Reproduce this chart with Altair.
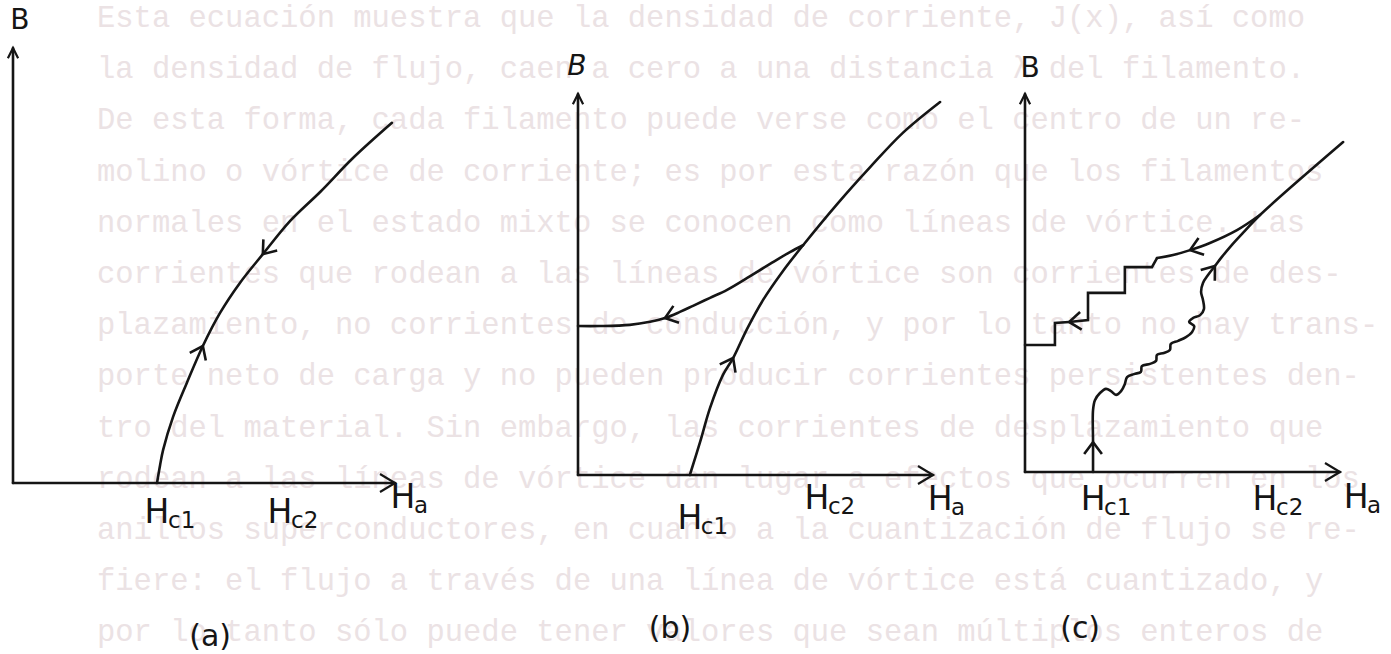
import math
import altair as alt
import pandas as pd

# Magnetization curves B(Ha) of a type-II superconductor.
# All values in arbitrary units; each axis runs from 0 to 10 (arrow tip).
AXIS_MAX = 10.0

# (a) reversible curve
A_H = [3.77, 3.85, 3.93, 4.19, 4.55, 4.97, 5.42, 5.94, 6.54, 7.25, 8.04, 8.90, 9.92]
A_B = [0.00, 0.41, 0.76, 1.52, 2.30, 3.15, 3.91, 4.60, 5.26, 6.02, 6.69, 7.47, 8.28]
A_HC = [3.77, 6.99]

# (b) irreversible curve with trapped flux
B_UP_H = [3.15, 3.44, 3.72, 4.08, 4.37, 4.76, 5.21, 5.77, 6.34, 7.30, 8.23, 9.15, 10.20]
B_UP_B = [0.00, 0.87, 1.76, 2.62, 3.07, 3.83, 4.59, 5.35, 6.03, 7.11, 8.08, 8.98, 9.79]
B_DN_H = [6.34, 5.97, 5.41, 4.85, 4.20, 3.72, 3.24, 2.87, 2.45, 2.03, 1.46, 0.62, 0.00]
B_DN_B = [6.03, 5.85, 5.54, 5.22, 4.86, 4.65, 4.44, 4.28, 4.12, 4.02, 3.94, 3.91, 3.91]
B_HC = [3.15, 6.73]

# (c) flux jumps
C_UP_H = [2.16, 2.16, 2.16, 2.22, 2.38, 2.57, 2.73, 2.89, 3.05, 3.17,
          3.24, 3.46, 3.68, 3.71, 3.97, 4.16, 4.19, 4.41, 4.60, 4.63,
          4.86, 5.11, 5.30, 5.37, 5.21, 5.33, 5.56, 5.68, 5.65, 5.59,
          5.65, 5.81, 6.03, 6.25, 6.57, 6.98, 7.46, 10.10]
C_UP_B = [0.00, 0.79, 1.64, 1.90, 2.09, 2.20, 2.14, 2.04, 2.14, 2.33,
          2.51, 2.59, 2.65, 2.80, 2.86, 2.94, 3.10, 3.15, 3.23, 3.39,
          3.47, 3.57, 3.70, 3.86, 3.97, 4.07, 4.15, 4.31, 4.55, 4.76,
          5.00, 5.21, 5.45, 5.69, 6.01, 6.38, 6.80, 8.73]
C_RET_H = [7.46, 6.73, 5.87, 5.24, 4.70, 4.19]
C_RET_B = [6.80, 6.40, 6.06, 5.87, 5.74, 5.66]
C_STEP_H = [4.19, 4.03, 3.17, 3.17, 2.00, 2.00, 1.40, 0.95, 0.95, 0.00]
C_STEP_B = [5.66, 5.42, 5.42, 4.74, 4.74, 4.02, 3.97, 3.94, 3.36, 3.36]
C_HC = [2.16, 7.62]

PAGE_TEXT = [
    "Esta ecuación muestra que la densidad de corriente, J(x), así como",
    "la densidad de flujo, caen a cero a una distancia λ del filamento.",
    "De esta forma, cada filamento puede verse como el centro de un re-",
    "molino o vórtice de corriente; es por esta razón que los filamentos",
    "normales en el estado mixto se conocen como líneas de vórtice. Las",
    "corrientes que rodean a las líneas de vórtice son corrientes de des-",
    "plazamiento, no corrientes de conducción, y por lo tanto no hay trans-",
    "porte neto de carga y no pueden producir corrientes persistentes den-",
    "tro del material.  Sin embargo, las corrientes de desplazamiento que",
    "rodean a las líneas de vórtice dan lugar a efectos que ocurren en los",
    "anillos superconductores, en cuanto a la cuantización de flujo se re-",
    "fiere: el flujo a través de una línea de vórtice está cuantizado, y",
    "por lo tanto sólo puede tener valores que sean múltiplos enteros de",
]

# ---------------- layout & style ----------------
CANVAS_W, CANVAS_H = 1391, 654
INK = "#151515"
LINE_W = 2.6
LABEL_FONT = "DejaVu Sans"
PAGE_FONT = "Liberation Mono"
PAGE_COLOR = "#ebe2e4"
PAGE_LEFT, PAGE_FIRST, PAGE_GAP = 97, 18, 51.2

CHEVRON = "M -1 -0.75 L 0 0 L -1 0.75"
X_HEAD = "M -1 -0.6 L 0 0 L -1 0.6"
Y_HEAD = "M -1 -0.5 L 0 0 L -1 0.5"

# origin (px) and px per unit of every panel
FRAMES = {
    "a": dict(ox=13, oy=483, sx=38.2, sy=43.5),
    "b": dict(ox=578, oy=475, sx=35.5, sy=38.1),
    "c": dict(ox=1025, oy=472, sx=31.5, sy=37.8),
}
LABELS = {
    "a": dict(b=(0.18, 10.62), ha=(10.21, -0.34), hc_row=[-0.69, -0.69], tag=(5.16, -3.54), italic=False),
    "b": dict(b=(-0.03, 10.71), ha=(10.2, -0.66), hc_row=[-1.15, -0.63], tag=(2.59, -4.04), italic=True),
    "c": dict(b=(0.16, 10.66), ha=(10.51, -0.69), hc_row=[-0.74, -0.74], tag=(1.75, -4.15), italic=False),
}


def path_rows(paths):
    rows = []
    for name, (hs, bs) in paths.items():
        for k, (h, b) in enumerate(zip(hs, bs)):
            rows.append({"path": name, "k": k, "H": h, "B": b})
    return pd.DataFrame(rows)


def heading(fr, hs, bs, i, sense):
    j0, j1 = max(i - 1, 0), min(i + 1, len(hs) - 1)
    dx = (hs[j1] - hs[j0]) * fr["sx"]
    dy = -(bs[j1] - bs[j0]) * fr["sy"]
    ang = math.degrees(math.atan2(dy, dx))
    if sense < 0:
        ang += 180
    return ang % 360


def panel(key, smooth, straight, arrows, hc, tag):
    fr = FRAMES[key]
    lab = LABELS[key]
    xs = alt.Scale(domain=[-fr["ox"] / fr["sx"], (CANVAS_W - fr["ox"]) / fr["sx"]], nice=False, zero=False)
    ys = alt.Scale(domain=[(fr["oy"] - CANVAS_H) / fr["sy"], fr["oy"] / fr["sy"]], nice=False, zero=False)
    X = alt.X("H:Q", scale=xs, axis=None)
    Y = alt.Y("B:Q", scale=ys, axis=None)

    layers = []
    axes = {"xaxis": ([0, AXIS_MAX], [0, 0]), "yaxis": ([0, 0], [0, AXIS_MAX])}
    lines = dict(axes)
    lines.update(straight)
    layers.append(
        alt.Chart(path_rows(lines)).mark_line(
            color=INK, strokeWidth=LINE_W, strokeCap="round", strokeJoin="miter"
        ).encode(x=X, y=Y, detail="path:N", order="k:Q")
    )
    layers.append(
        alt.Chart(path_rows(smooth)).mark_line(
            color=INK, strokeWidth=LINE_W, strokeCap="round", strokeJoin="round",
            interpolate="catmull-rom",
        ).encode(x=X, y=Y, detail="path:N", order="k:Q")
    )

    heads = pd.DataFrame([
        {"H": hs[i], "B": bs[i], "angle": heading(fr, hs, bs, i, s)} for hs, bs, i, s in arrows
    ])
    layers.append(
        alt.Chart(heads).mark_point(
            shape=CHEVRON, filled=False, size=560, color=INK, strokeWidth=LINE_W, opacity=1
        ).encode(x=X, y=Y, angle=alt.Angle("angle:Q", scale=None))
    )
    layers.append(
        alt.Chart(pd.DataFrame({"H": [AXIS_MAX], "B": [0.0], "angle": [0.0]})).mark_point(
            shape=X_HEAD, filled=False, size=900, color=INK, strokeWidth=2.2, opacity=1
        ).encode(x=X, y=Y, angle=alt.Angle("angle:Q", scale=None))
    )
    layers.append(
        alt.Chart(pd.DataFrame({"H": [0.0], "B": [AXIS_MAX], "angle": [270.0]})).mark_point(
            shape=Y_HEAD, filled=False, size=420, color=INK, strokeWidth=2.2, opacity=1
        ).encode(x=X, y=Y, angle=alt.Angle("angle:Q", scale=None))
    )

    # axis letters
    layers.append(
        alt.Chart(pd.DataFrame({"H": [lab["b"][0]], "B": [lab["b"][1]], "t": ["B"]})).mark_text(
            font=LABEL_FONT, fontSize=28, color=INK,
            fontStyle="italic" if lab["italic"] else "normal",
            align="center", baseline="middle",
        ).encode(x=X, y=Y, text="t:N")
    )
    hl = pd.DataFrame({
        "H": [hc[0], hc[1], lab["ha"][0]],
        "B": [lab["hc_row"][0], lab["hc_row"][1], lab["ha"][1]],
        "main": ["H", "H", "H"],
        "sub": ["c1", "c2", "a"],
    })
    layers.append(
        alt.Chart(hl).mark_text(
            font=LABEL_FONT, fontSize=33, color=INK, align="center", baseline="middle"
        ).encode(x=X, y=Y, text="main:N")
    )
    layers.append(
        alt.Chart(hl).mark_text(
            font=LABEL_FONT, fontSize=23, color=INK, align="left", baseline="middle", dx=11, dy=8
        ).encode(x=X, y=Y, text="sub:N")
    )
    layers.append(
        alt.Chart(pd.DataFrame({"H": [lab["tag"][0]], "B": [lab["tag"][1]], "t": [tag]})).mark_text(
            font=LABEL_FONT, fontSize=30, color=INK, align="center", baseline="middle"
        ).encode(x=X, y=Y, text="t:N")
    )
    return alt.layer(*layers)


panel_a = panel(
    "a",
    smooth={"curve": (A_H, A_B)},
    straight={},
    arrows=[(A_H, A_B, 5, 1), (A_H, A_B, 8, -1)],
    hc=A_HC, tag="(a)",
)
panel_b = panel(
    "b",
    smooth={"up": (B_UP_H, B_UP_B), "down": (B_DN_H, B_DN_B)},
    straight={},
    arrows=[(B_UP_H, B_UP_B, 4, 1), (B_DN_H, B_DN_B, 8, 1)],
    hc=B_HC, tag="(b)",
)
panel_c = panel(
    "c",
    smooth={"up": (C_UP_H, C_UP_B), "ret": (C_RET_H, C_RET_B)},
    straight={"steps": (C_STEP_H, C_STEP_B)},
    arrows=[(C_UP_H, C_UP_B, 1, 1), (C_UP_H, C_UP_B, 32, 1),
            (C_RET_H, C_RET_B, 3, 1), (C_STEP_H, C_STEP_B, 6, 1)],
    hc=C_HC, tag="(c)",
)

# faint typed paragraph behind the figures
page = pd.DataFrame({"line": list(range(len(PAGE_TEXT))), "t": PAGE_TEXT})
d0 = -PAGE_FIRST / PAGE_GAP
page_layer = alt.Chart(page).mark_text(
    font=PAGE_FONT, fontSize=30.5, color=PAGE_COLOR, align="left", baseline="middle"
).encode(
    x=alt.value(PAGE_LEFT),
    y=alt.Y("line:Q", axis=None,
            scale=alt.Scale(domain=[d0, d0 + CANVAS_H / PAGE_GAP], reverse=True, nice=False, zero=False)),
    text="t:N",
)

chart = alt.layer(page_layer, panel_a, panel_b, panel_c).resolve_scale(
    x="independent", y="independent"
).properties(
    width=CANVAS_W, height=CANVAS_H, padding=0,
    autosize=alt.AutoSizeParams(type="none"), background="white",
).configure_view(stroke=None)

chart.save("out.html", embed_options={"renderer": "svg", "actions": False})
